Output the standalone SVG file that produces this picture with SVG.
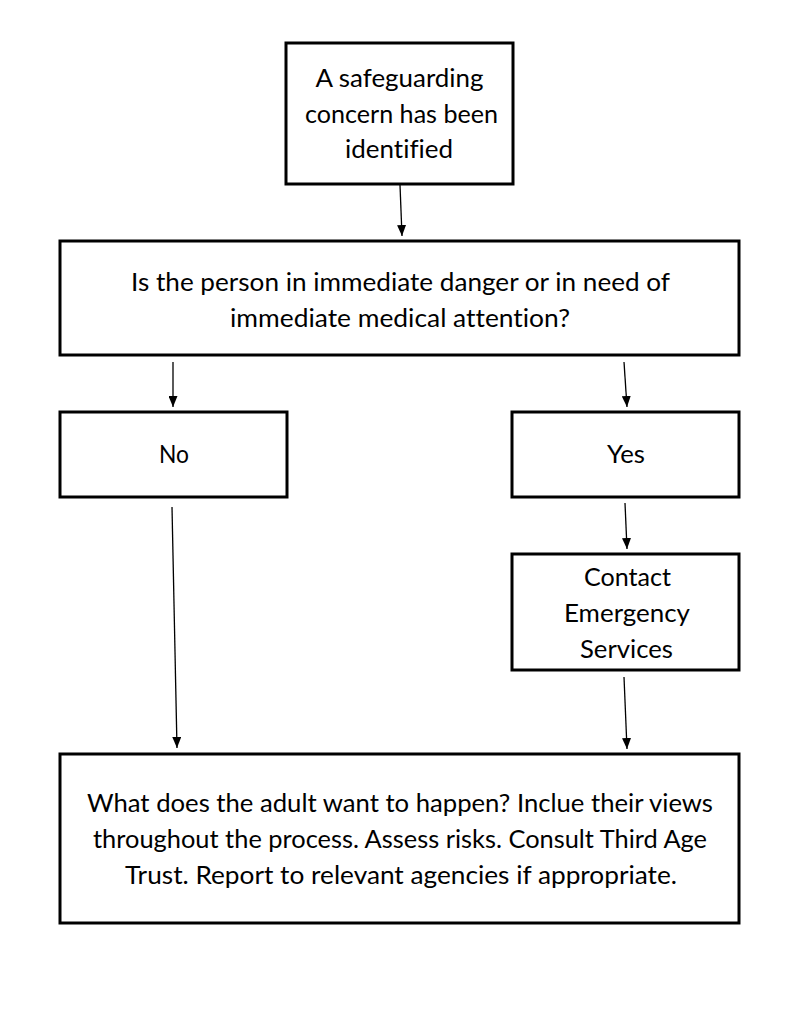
<svg xmlns="http://www.w3.org/2000/svg" width="810" height="1024" viewBox="0 0 810 1024">
<style>
.box{fill:#fff;stroke:#000;stroke-width:3}
.t{font-family:Lato,"Open Sans","Liberation Sans",sans-serif;font-size:25px;fill:#000;text-anchor:middle;font-variant-ligatures:none}
.c{stroke:#000;stroke-width:1.3;fill:none;marker-end:url(#ah)}
</style>
<defs>
<marker id="ah" markerUnits="userSpaceOnUse" markerWidth="11" markerHeight="9" refX="11" refY="4.5" orient="auto">
<path d="M0,0 L11,4.5 L0,9 z" fill="#000"/>
</marker>
</defs>
<rect width="810" height="1024" fill="#fff"/>
<g id="connectors">
<line class="c" x1="400" y1="185" x2="402" y2="236"/>
<line class="c" x1="173" y1="362" x2="173" y2="407"/>
<line class="c" x1="624" y1="362" x2="627" y2="407"/>
<line class="c" x1="625" y1="503" x2="627" y2="549"/>
<line class="c" x1="624" y1="677" x2="627" y2="749"/>
<line class="c" x1="172" y1="507" x2="177" y2="748"/>
</g>
<g id="concern">
<rect class="box" x="286" y="43" width="227" height="141"/>
<text class="t"><tspan x="399.5" y="87" textLength="168" lengthAdjust="spacingAndGlyphs">A safeguarding</tspan><tspan x="401.5" y="122.5" textLength="193" lengthAdjust="spacingAndGlyphs">concern has been</tspan><tspan x="399" y="158" textLength="108" lengthAdjust="spacingAndGlyphs">identified</tspan></text>
</g>
<g id="question">
<rect class="box" x="60" y="241" width="679" height="114"/>
<text class="t"><tspan x="400.5" y="291" textLength="539" lengthAdjust="spacingAndGlyphs">Is the person in immediate danger or in need of</tspan><tspan x="400" y="327" textLength="340" lengthAdjust="spacingAndGlyphs">immediate medical attention?</tspan></text>
</g>
<g id="no">
<rect class="box" x="60" y="412" width="227" height="85"/>
<text class="t" x="174" y="463" textLength="30" lengthAdjust="spacingAndGlyphs">No</text>
</g>
<g id="yes">
<rect class="box" x="512" y="412" width="227" height="85"/>
<text class="t" x="626" y="463" textLength="38" lengthAdjust="spacingAndGlyphs">Yes</text>
</g>
<g id="emergency">
<rect class="box" x="512" y="554" width="227" height="116"/>
<text class="t"><tspan x="627.5" y="586" textLength="87" lengthAdjust="spacingAndGlyphs">Contact</tspan><tspan x="627" y="622" textLength="126" lengthAdjust="spacingAndGlyphs">Emergency</tspan><tspan x="626.5" y="658" textLength="93" lengthAdjust="spacingAndGlyphs">Services</tspan></text>
</g>
<g id="action">
<rect class="box" x="60" y="754" width="679" height="169"/>
<text class="t"><tspan x="400" y="812" textLength="626" lengthAdjust="spacingAndGlyphs">What does the adult want to happen? Inclue their views</tspan><tspan x="400" y="848" textLength="614" lengthAdjust="spacingAndGlyphs">throughout the process. Assess risks. Consult Third Age</tspan><tspan x="401" y="884" textLength="552" lengthAdjust="spacingAndGlyphs">Trust. Report to relevant agencies if appropriate.</tspan></text>
</g>
</svg>
